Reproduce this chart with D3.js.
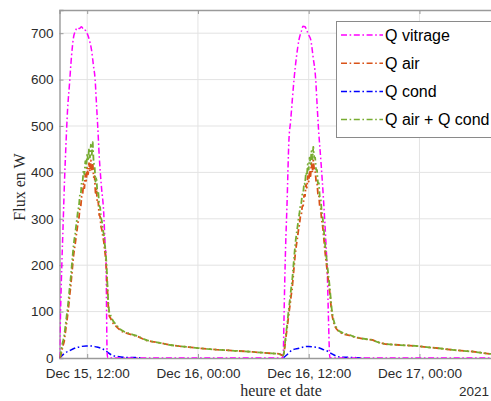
<!DOCTYPE html>
<html>
<head>
<meta charset="utf-8">
<script src="https://cdn.jsdelivr.net/npm/d3@7"></script>
<style>
  html, body { margin: 0; padding: 0; background: #fff; }
  svg { display: block; }
</style>
</head>
<body>
<script>
// ---------------- data (hours counted from Dec 15 2021, 00:00) ----------------
const seriesNames = ["Q vitrage", "Q air", "Q cond", "Q air + Q cond"];
const seriesColors = ["#FF00FF", "#D95319", "#0000FF", "#77AC30"];

const yTicks = [0, 100, 200, 300, 400, 500, 600, 700];
const xTickHours = [12, 24, 36, 48];
const xTickLabels = ["Dec 15, 12:00", "Dec 16, 00:00", "Dec 16, 12:00", "Dec 17, 00:00"];
const yearLabel = "2021";
const xTitle = "heure et date";
const yTitle = "Flux en W";

// Q vitrage
const hVitrage = [9.0, 9.05, 9.14, 9.25, 9.38, 9.54, 9.70, 9.86, 10.08, 10.30,
  10.51, 10.73, 10.95, 11.16, 11.38, 11.59, 11.81, 12.03, 12.24, 12.46,
  12.68, 12.86, 13.0, 13.14, 13.32, 13.54, 13.79, 13.92, 14.05, 14.10, 14.16, 14.24,
  33.16, 33.25, 33.32, 33.4, 33.5, 33.65, 33.86, 34.04, 34.24, 34.41,
  34.68, 34.95, 35.22, 35.38, 35.6, 35.81, 36.03, 36.22, 36.47, 36.76,
  36.9, 37.06, 37.34, 37.61, 37.85, 38.02, 38.15, 38.24, 38.3, 57];
const qVitrage = [0, 40, 120, 200, 280, 380, 460, 530, 590, 650,
  690, 705, 712, 710, 714, 708, 706, 698, 685, 665,
  630, 600, 550, 500, 430, 370, 313, 255, 200, 100, 10, 0,
  0, 11, 80, 160, 240, 330, 470, 510, 560, 600,
  650, 686, 705, 715, 714, 705, 695, 686, 650, 600,
  550, 495, 420, 340, 255, 180, 80, 17, 0, 0];

// Q cond
const hCond = [9.0, 9.54, 10.1, 10.62, 11.16, 11.89, 12.43, 12.97, 13.5, 14.05,
  14.3, 14.6, 15.0, 15.3, 16.0, 17.1, 17.8, 18.3, 32.9,
  33.2, 33.7, 34.2, 34.95, 35.5, 36.0, 36.5, 37.1, 37.6, 38.1,
  38.5, 39.0, 39.5, 40.9, 41.8, 42.3, 57];
const qCond = [0, 10, 16, 21, 24, 26, 26, 24, 21, 15,
  11, 7, 4, 3, 1.5, 1, 0, -2.5, -2.5,
  0, 8, 17, 21, 24, 25, 24, 22, 18, 14,
  9, 4, 2, 1, 0, -2.5, -2.5];

// Q air and Q air + Q cond share the same sampling times
const hAir = [].concat(
  d3.range(90, 146).map(d => d / 10),
  [14.6, 14.8, 15.0, 15.3, 15.7, 16.0, 16.5, 17.0, 17.5, 18.0, 18.5, 19.0, 20, 21, 22,
   23, 24, 25, 26, 27, 28, 29, 30, 31, 32, 32.8, 33.2],
  d3.range(333, 391).map(d => d / 10),
  [39.3, 39.8, 40.4, 40.9, 41.8, 42.9, 43.5, 44.3, 45.8, 47.6, 49, 50.1, 51.8, 53.7, 55.6, 57]
);
const qAir = [
  1, 2, 10, 20, 28, 35, 50, 65, 80, 96,
  114, 135, 152, 173, 195, 217, 233, 246, 262, 276,
  292, 300, 322, 326, 348, 352, 376, 366, 396, 382,
  410, 396, 420, 402, 426, 406, 420, 390, 392, 356,
  366, 334, 337, 308, 305, 283, 276, 262, 251, 232,
  216, 188, 145, 106, 90, 87,
  83, 75, 71, 65, 58, 55, 52, 49, 46, 41.5, 37.5, 35.5, 32, 28, 25.5,
  23.5, 21.5, 19.5, 18, 17, 15.5, 14.5, 13, 11.5, 10, 9, 5,
  7, 22, 40, 55, 70, 88, 103,
  118, 135, 148, 170, 193, 215, 234, 248, 262, 277,
  288, 305, 309, 327, 328, 351, 349, 373, 367, 392,
  380, 404, 392, 420, 400, 426, 406, 405, 382, 380,
  354, 354, 325, 322, 298, 287, 267, 245, 224, 207,
  188, 172, 156, 138, 117, 97, 86, 77, 71, 66,
  63,
  56, 51.5, 49, 45.5, 41.5, 39, 34, 30, 28, 26, 23, 21, 17, 14, 9, 7];
const qTotal = [
  2, 6, 18, 30, 38, 46, 62, 78, 95, 111,
  130, 152, 170, 192, 215, 238, 255, 268, 285, 300,
  318, 326, 350, 350, 378, 378, 405, 396, 424, 410,
  442, 425, 452, 432, 460, 438, 465, 420, 415, 380,
  390, 356, 360, 328, 325, 302, 294, 278, 266, 246,
  230, 200, 155, 115, 97, 93,
  89, 80, 75, 68, 60, 57, 53, 50, 47, 42, 38, 36, 32, 28, 25.5,
  23.5, 21.5, 19.5, 18, 17, 15.5, 14.5, 13, 11.5, 10, 9, 5,
  8, 25, 45, 62, 78, 98, 115,
  132, 150, 165, 188, 212, 235, 255, 270, 285, 300,
  312, 330, 334, 352, 354, 377, 375, 399, 393, 418,
  406, 432, 418, 446, 428, 455, 432, 432, 406, 405,
  377, 377, 347, 344, 318, 306, 285, 262, 240, 222,
  202, 185, 168, 148, 126, 105, 92, 82, 75, 69,
  66,
  58, 53, 50, 46, 42, 39, 34, 30, 28, 26, 23, 21, 17, 14, 9, 7];

// ---------------- chart ----------------
const W = 491, H = 401;
const base = new Date(2021, 11, 15, 0, 0, 0);
const toDate = h => new Date(base.getTime() + h * 3600e3);

const plot = { left: 59.5, right: 502.5, top: 10, bottom: 358 };
const x = d3.scaleTime().domain([toDate(9), toDate(57)]).range([plot.left, plot.right]);
const y = d3.scaleLinear().domain([0, 750]).range([plot.bottom, plot.top]);

const svg = d3.select("body").append("svg").attr("width", W).attr("height", H)
  .style("font-family", "'Liberation Sans', Arial, Helvetica, sans-serif");

svg.append("defs").append("clipPath").attr("id", "clip")
  .append("rect").attr("x", plot.left).attr("y", plot.top)
  .attr("width", plot.right - plot.left).attr("height", plot.bottom - plot.top);

// grid
const grid = svg.append("g");
grid.selectAll("line.gy").data(yTicks.filter(d => d > 0)).join("line")
  .attr("x1", plot.left).attr("x2", plot.right)
  .attr("y1", d => y(d)).attr("y2", d => y(d))
  .attr("stroke", "#e3e3e3").attr("stroke-width", 1);
grid.selectAll("line.gx").data(xTickHours).join("line")
  .attr("x1", d => x(toDate(d))).attr("x2", d => x(toDate(d)))
  .attr("y1", plot.top).attr("y2", plot.bottom)
  .attr("stroke", "#e3e3e3").attr("stroke-width", 1);

// axes
const axisColor = "#9a9a9a";
const tickColor = "#2b2b2b";
const xAxis = d3.axisBottom(x).tickValues(xTickHours.map(toDate))
  .tickFormat((d, i) => xTickLabels[i]).tickSize(-4).tickPadding(10);
const gx = svg.append("g").attr("transform", `translate(0,${plot.bottom})`).call(xAxis);
const yAxis = d3.axisLeft(y).tickValues(yTicks).tickSize(-4).tickPadding(6);
const gy = svg.append("g").attr("transform", `translate(${plot.left},0)`).call(yAxis);
const gt = svg.append("g").attr("transform", `translate(0,${plot.top})`)
  .call(d3.axisTop(x).tickValues(xTickHours.map(toDate)).tickFormat("").tickSize(-4));
const gr = svg.append("g").attr("transform", `translate(${plot.right},0)`)
  .call(d3.axisRight(y).tickValues(yTicks).tickFormat("").tickSize(-4));

[gx, gy, gt, gr].forEach(g => {
  g.select(".domain").attr("stroke", axisColor).attr("stroke-width", 1.4);
  g.selectAll(".tick line").attr("stroke", axisColor).attr("stroke-width", 1);
  g.selectAll(".tick text").attr("fill", tickColor).style("font-size", "13.5px")
    .style("font-family", "'Liberation Sans', Arial, Helvetica, sans-serif");
});

// lines
const dash = "6,2.6,1.6,2.6";
const lineGen = d3.line().x(d => x(toDate(d[0]))).y(d => y(d[1]));
const data = {
  vit: hVitrage.map((h, i) => [h, qVitrage[i]]),
  air: hAir.map((h, i) => [h, qAir[i]]),
  cond: hCond.map((h, i) => [h, qCond[i]]),
  tot: hAir.map((h, i) => [h, qTotal[i]])
};
const lines = svg.append("g").attr("clip-path", "url(#clip)");
const drawOrder = [["cond", 2, d3.curveMonotoneX, 1.5], ["vit", 0, d3.curveMonotoneX, 1.5],
                   ["air", 1, d3.curveLinear, 1.8], ["tot", 3, d3.curveLinear, 1.8]];
drawOrder.forEach(([k, ci, curve, w]) => {
  lines.append("path").datum(data[k])
    .attr("d", lineGen.curve(curve))
    .attr("fill", "none")
    .attr("stroke", seriesColors[ci])
    .attr("stroke-width", w)
    .attr("stroke-dasharray", dash)
    .attr("stroke-linejoin", "round");
});

// axis titles
svg.append("text").attr("x", (plot.left + plot.right) / 2).attr("y", 396)
  .attr("text-anchor", "middle").attr("fill", tickColor)
  .style("font-family", "'Liberation Serif', 'Times New Roman', serif").style("font-size", "16px")
  .text(xTitle);
svg.append("text").attr("transform", `translate(25,187) rotate(-90)`)
  .attr("text-anchor", "middle").attr("fill", tickColor)
  .style("font-family", "'Liberation Serif', 'Times New Roman', serif").style("font-size", "16px")
  .text(yTitle);
svg.append("text").attr("x", 489).attr("y", 396).attr("text-anchor", "end")
  .attr("fill", tickColor).style("font-size", "13.5px").text(yearLabel);

// legend
const lg = svg.append("g");
lg.append("rect").attr("x", 336.5).attr("y", 21.5).attr("width", 162).attr("height", 116)
  .attr("fill", "#fff").attr("stroke", "#8a8a8a").attr("stroke-width", 1);
const legY = [35, 63.3, 91.6, 119.5];
seriesNames.forEach((name, i) => {
  lg.append("line").attr("x1", 341).attr("x2", 383).attr("y1", legY[i]).attr("y2", legY[i])
    .attr("stroke", seriesColors[i]).attr("stroke-width", 1.5).attr("stroke-dasharray", dash);
  lg.append("text").attr("x", 385).attr("y", legY[i]).attr("dy", "0.35em")
    .attr("fill", "#000").style("font-size", "16px").text(name);
});
</script>
</body>
</html>
